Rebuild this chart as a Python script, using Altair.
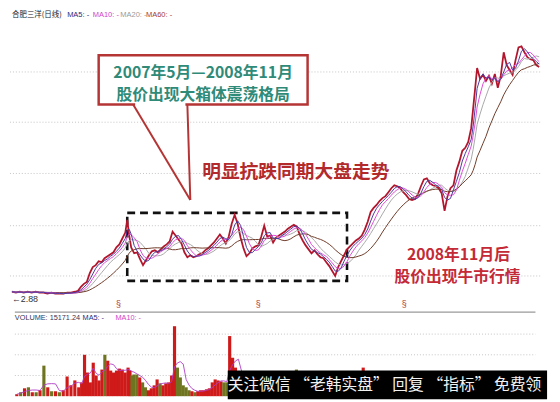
import altair as alt
import pandas as pd

# ---------------- data ----------------
days = [12, 16, 20, 24, 28, 32, 36, 40, 44, 48,
        52, 56, 60, 64, 68, 72, 76, 79, 82, 85,
        88, 91, 94, 97, 100, 103, 106, 109, 112, 115,
        118, 121, 124, 127, 129, 131, 133, 136, 139, 142,
        145, 148, 151, 154, 157, 160, 163, 166, 169, 172,
        175, 178, 181, 184, 187, 190, 193, 196, 199, 202,
        205, 208, 211, 214, 217, 220, 223, 226, 229, 232,
        235, 238, 241, 244, 247, 250, 253, 256, 259, 262,
        265, 268, 271, 274, 277, 280, 283, 286, 289, 292,
        295, 298, 301, 304, 307, 310, 313, 316, 319, 322,
        325, 328, 331, 334, 337, 340, 343, 346, 349, 352,
        355, 358, 361, 364, 367, 370, 373, 376, 379, 382,
        385, 388, 391, 394, 397, 400, 403, 406, 409, 412,
        415, 418, 421, 424, 427, 430, 433, 436, 439, 442,
        445, 448, 451, 454, 457, 460, 463, 466, 469, 472,
        475, 478, 480, 482, 484, 487, 490, 493, 496, 499,
        502, 505, 508, 511, 514, 517, 520, 523, 526, 529,
        532, 535, 538, 541, 544, 547]

close = [2.88, 2.80, 2.88, 2.80, 2.88, 2.80, 2.88, 2.80, 2.80, 2.72,
         2.80, 2.72, 2.72, 2.72, 2.80, 2.80, 2.88, 2.96, 3.28, 3.52,
         3.68, 4.40, 4.88, 5.04, 5.36, 5.28, 5.60, 5.76, 5.92, 6.08,
         6.48, 6.72, 7.20, 7.68, 8.72, 7.44, 6.48, 6.00, 6.08, 5.52,
         5.04, 5.44, 5.84, 6.16, 6.24, 6.08, 6.32, 6.56, 6.72, 6.96,
         7.76, 7.44, 7.12, 6.80, 6.08, 5.68, 5.84, 5.68, 5.76, 5.92,
         6.00, 6.24, 6.40, 6.64, 6.88, 7.20, 7.52, 7.20, 6.80, 7.36,
         8.40, 9.12, 8.40, 7.28, 6.40, 5.76, 6.00, 6.40, 6.56, 6.64,
         7.36, 8.24, 7.36, 7.44, 6.88, 7.28, 7.44, 7.60, 7.76, 8.00,
         8.16, 8.32, 8.16, 7.52, 7.04, 6.64, 6.32, 6.00, 6.24, 5.92,
         5.68, 5.60, 5.28, 4.96, 4.56, 4.16, 4.88, 5.36, 5.84, 6.32,
         6.56, 6.80, 7.04, 7.20, 7.44, 7.92, 8.56, 9.36, 9.68, 9.92,
         10.24, 10.48, 10.64, 10.96, 11.28, 11.52, 11.44, 11.28, 10.96, 10.72,
         10.40, 10.32, 10.40, 10.80, 11.44, 12.00, 12.08, 11.68, 11.52, 11.44,
         11.28, 10.88, 9.44, 10.64, 11.28, 11.52, 12.72, 13.44, 14.32, 14.56,
         15.04, 16.16, 17.76, 19.36, 21.04, 20.16, 20.48, 20.00, 20.40, 19.76,
         20.56, 19.44, 20.40, 22.32, 21.28, 20.88, 20.48, 21.68, 22.72, 22.80,
         22.32, 21.92, 21.76, 21.68, 21.28, 21.12]

volume = [95, 190, 381, 429, 190, 190, 286, 1476, 429, 238,
          238, 190, 286, 952, 524, 762, 429, 667, 2000, 1143,
          667, 1619, 1000, 762, 1286, 2000, 1714, 1238, 1143, 1238,
          1333, 1286, 1143, 1381, 1238, 1000, 1048, 1048, 905, 667,
          429, 286, 381, 524, 810, 619, 524, 619, 667, 1000,
          3381, 1381, 905, 524, 429, 286, 238, 190, 238, 286,
          286, 333, 381, 667, 810, 762, 714, 667, 667, 2905,
          1857, 1381, 1000, 810, 700, 650, 600, 550, 600, 650,
          700, 750, 650, 600, 550, 600, 650, 700, 650, 600,
          650, 700, 1286, 900, 750, 700, 650, 600, 650, 700,
          750, 800, 850, 900, 950, 1000, 900, 850, 800, 900,
          950, 1000, 1050, 1100, 1150, 1381, 1100, 1050, 1000, 950,
          900, 850, 800, 850, 900, 950, 900, 850, 800, 750,
          700, 750, 800, 850, 900, 950, 900, 850, 800, 750,
          700, 800, 1000, 900, 850, 900, 1000, 1100, 1150, 1100,
          1050, 1100, 1150, 1100, 1050, 1000, 950, 900, 950, 1000,
          950, 900, 950, 1000, 1050, 1000, 950, 900, 950, 1000,
          950, 900, 850, 900, 950, 900]

grid_prices = [4.16, 8.24, 12.48, 16.64, 20.72]
grid_volumes = [1000, 2000, 3000]
year_mark_days = [120, 262, 410]

header_labels = ["合肥三洋(日线)", "MA5: -", "MA10: -", "MA20: -", "MA60: -"]
vol_labels = ["VOLUME: 15171.24", "MA5: -", "MA10: -"]
callout_lines = ["2007年5月—2008年11月", "股价出现大箱体震荡格局"]
side_note = "明显抗跌同期大盘走势"
bull_lines = ["2008年11月后", "股价出现牛市行情"]
low_label = "←2.88"
watermark = "关注微信 “老韩实盘” 回复 “指标” 免费领"

# ---------------- layout / style ----------------
W, H_P, H_V = 552, 305, 89
CJK = "Noto Sans CJK SC"
LAT = "Liberation Sans"

xs = alt.Scale(domain=[8, 560], nice=False, zero=False)
ps = alt.Scale(domain=[1.28, 25.68], nice=False, zero=False)
vs = alt.Scale(domain=[-143, 4095], nice=False, zero=False)


def X(f):
    return alt.X(f, type="quantitative", scale=xs, axis=None)


def YP(f):
    return alt.Y(f, type="quantitative", scale=ps, axis=None)


def YV(f):
    return alt.Y(f, type="quantitative", scale=vs, axis=None)


df = pd.DataFrame({"day": days, "close": close, "volume": volume})
srt = [alt.SortField("day")]

# ---- price panel ----
grid = alt.Chart(pd.DataFrame({"p": grid_prices, "a": 10, "b": 548})).mark_rule(
    color="#c4c4c4", strokeDash=[1, 2], strokeWidth=1
).encode(x=X("a"), x2="b:Q", y=YP("p"))

price_line = alt.Chart(df).mark_line(color="#b3162c", strokeWidth=1.8).encode(
    x=X("day"), y=YP("close"), order="day:Q"
)

ma_lines = (
    alt.Chart(df)
    .transform_window(ma5="mean(close)", frame=[-2, 0], sort=srt)
    .transform_window(ma10="mean(close)", frame=[-4, 0], sort=srt)
    .transform_window(ma20="mean(close)", frame=[-7, 0], sort=srt)
    .transform_window(ma60="mean(close)", frame=[-15, 0], sort=srt)
    .transform_fold(["ma20", "ma60", "ma10", "ma5"], as_=["ma", "value"])
    .mark_line(strokeWidth=1)
    .encode(
        x=X("day"),
        y=YP("value"),
        order="day:Q",
        color=alt.Color(
            "ma:N",
            scale=alt.Scale(domain=["ma5", "ma10", "ma20", "ma60"],
                            range=["#4a3a9e", "#e04bd6", "#a8a8a8", "#6f3a28"]),
            legend=None,
        ),
    )
)

box = alt.Chart(pd.DataFrame({"s": [129], "e": [352], "t": [9.28], "b": [3.76]})).mark_rect(
    filled=False, stroke="#111111", strokeWidth=2.6, strokeDash=[8, 5]
).encode(x=X("s"), x2="e:Q", y=YP("t"), y2="b:Q")

call_rect = alt.Chart(pd.DataFrame({"s": [100], "e": [312], "t": [22.08], "b": [18.08]})).mark_rect(
    fill="white", stroke="#b53434", strokeWidth=2.5
).encode(x=X("s"), x2="e:Q", y=YP("t"), y2="b:Q")

call_gap = alt.Chart(pd.DataFrame({"s": [137], "e": [188], "t": [18.08]})).mark_rule(
    color="white", strokeWidth=4
).encode(x=X("s"), x2="e:Q", y=YP("t"))

pointers = alt.Chart(pd.DataFrame({"x0": [135, 190], "y0": [18.08, 18.08],
                                   "x1": [193, 193], "y1": [10.32, 10.32]})).mark_rule(
    color="#b53434", strokeWidth=2
).encode(x=X("x0"), y=YP("y0"), x2="x1:Q", y2="y1:Q")

call_text = alt.Chart(pd.DataFrame({"t": callout_lines, "d": [206, 206], "p": [20.64, 18.88]})).mark_text(
    font=CJK, fontSize=16, fontWeight="bold", color="#2f8a78", align="center", baseline="middle"
).encode(x=X("d"), y=YP("p"), text="t:N")

side_text = alt.Chart(pd.DataFrame({"t": [side_note], "d": [300], "p": [12.56]})).mark_text(
    font=CJK, fontSize=19, fontWeight="bold", color="#b22a2c", align="center", baseline="middle"
).encode(x=X("d"), y=YP("p"), text="t:N")

bull_text = alt.Chart(pd.DataFrame({"t": bull_lines, "d": [465, 464], "p": [5.84, 4.08]})).mark_text(
    font=CJK, fontSize=16, fontWeight="bold", color="#c42a36", align="center", baseline="middle"
).encode(x=X("d"), y=YP("p"), text="t:N")

header_cjk = alt.Chart(pd.DataFrame({"t": header_labels[:1], "d": [12], "p": 25.36})).mark_text(
    font=CJK, fontSize=7.6, color="#222222", align="left", baseline="middle"
).encode(x=X("d"), y=YP("p"), text="t:N")

header_ma = alt.Chart(pd.DataFrame({
    "t": header_labels[1:], "d": [68, 94, 122, 148], "p": 25.36,
    "c": ["#2a2a80", "#d23fc8", "#9a9a9a", "#a33a3a"]})).mark_text(
    font=LAT, fontSize=7.6, align="left", baseline="middle"
).encode(x=X("d"), y=YP("p"), text="t:N", color=alt.Color("c:N", scale=None))

low_text = alt.Chart(pd.DataFrame({"t": [low_label], "d": [12], "p": [2.32]})).mark_text(
    font=LAT, fontSize=9, color="#333333", align="left", baseline="middle"
).encode(x=X("d"), y=YP("p"), text="t:N")

year_marks = alt.Chart(pd.DataFrame({"d": year_mark_days, "p": 1.84, "t": "§"})).mark_text(
    font=LAT, fontSize=9, color="#b03a3a", align="center", baseline="middle"
).encode(x=X("d"), y=YP("p"), text="t:N")

price_panel = alt.layer(
    grid, box, price_line, ma_lines, call_rect, call_gap, pointers,
    call_text, side_text, bull_text, header_cjk, header_ma, low_text, year_marks
).properties(width=W, height=H_P)

# ---- volume panel ----
vgrid = alt.Chart(pd.DataFrame({"v": grid_volumes, "a": 10, "b": 548})).mark_rule(
    color="#c4c4c4", strokeDash=[1, 2], strokeWidth=1
).encode(x=X("a"), x2="b:Q", y=YV("v"))

sep = alt.Chart(pd.DataFrame({"v": [4060], "a": [10], "b": [548]})).mark_rule(
    color="#9a9a9a", strokeWidth=1.2
).encode(x=X("a"), x2="b:Q", y=YV("v"))

vbars = (
    alt.Chart(df)
    .transform_window(prev="lag(close)", sort=srt)
    .transform_calculate(up="datum.prev == null || datum.close >= datum.prev", zero="0")
    .mark_bar(size=3.2)
    .encode(
        x=X("day"),
        y=YV("volume"),
        y2="zero:Q",
        color=alt.condition("datum.up", alt.value("#cf1a1a"), alt.value("#6e7420")),
    )
)

vma = (
    alt.Chart(df)
    .transform_window(vma="mean(volume)", frame=[-3, 0], sort=srt)
    .mark_line(color="#b03cc8", strokeWidth=0.9)
    .encode(x=X("day"), y=YV("vma"), order="day:Q")
)

vheader = alt.Chart(pd.DataFrame({
    "t": vol_labels, "d": [10, 80, 114], "v": 3760,
    "c": ["#333355", "#2a2a80", "#d23fc8"]})).mark_text(
    font=LAT, fontSize=7.4, align="left", baseline="middle"
).encode(x=X("d"), y=YV("v"), text="t:N", color=alt.Color("c:N", scale=None))

wm_rect = alt.Chart(pd.DataFrame({"s": [230], "e": [560], "t": [1238], "b": [-143]})).mark_rect(
    color="#000000"
).encode(x=X("s"), x2="e:Q", y=YV("t"), y2="b:Q")

wm_text = alt.Chart(pd.DataFrame({"t": [watermark], "d": [392], "v": [524]})).mark_text(
    font=CJK, fontSize=16, color="#f2f2f2", align="center", baseline="middle"
).encode(x=X("d"), y=YV("v"), text="t:N")

volume_panel = alt.layer(vgrid, sep, vbars, vma, vheader, wm_rect, wm_text).properties(
    width=W, height=H_V
)

chart = (
    alt.vconcat(price_panel, volume_panel, spacing=0, bounds="flush")
    .properties(padding=0, background="white")
    .configure_view(stroke=None)
)

chart.save("out.html", embed_options={"renderer": "svg", "actions": False})
